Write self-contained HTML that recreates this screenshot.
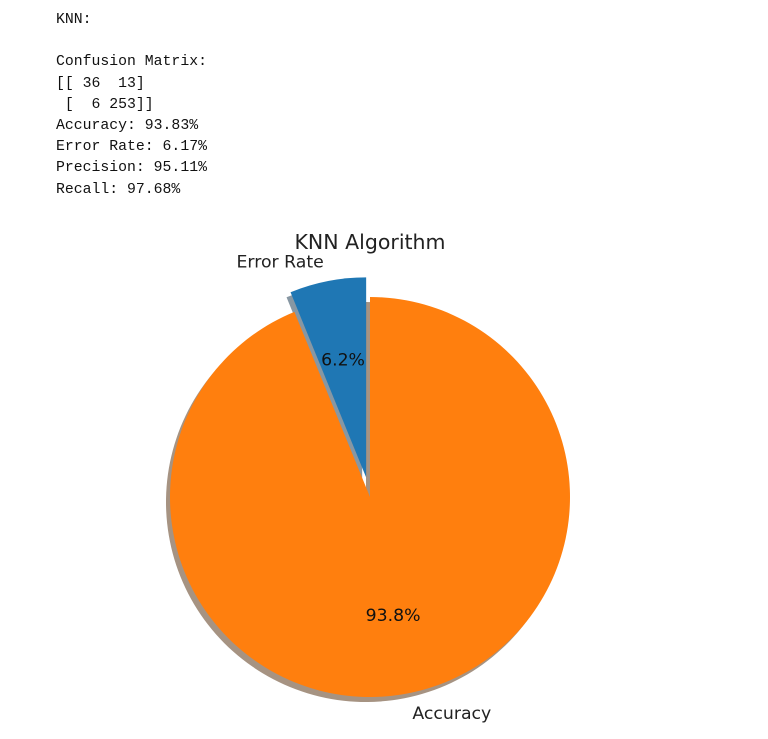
<!DOCTYPE html>
<html><head><meta charset="utf-8"><style>
body{margin:0;background:#fff;width:768px;height:739px;overflow:hidden}
pre{position:absolute;left:56px;top:10px;margin:0;font:14.8px/21.2px "Liberation Mono","DejaVu Sans Mono",monospace;color:#111}
svg{position:absolute;left:0;top:0}
</style></head><body>
<pre>KNN:

Confusion Matrix:
[[ 36  13]
 [  6 253]]
Accuracy: 93.83%
Error Rate: 6.17%
Precision: 95.11%
Recall: 97.68%</pre>
<svg width="768" height="739" id="chart">
<text x="370" y="249" text-anchor="middle" font-family="DejaVu Sans, sans-serif" font-size="20.5" fill="#222">KNN Algorithm</text>
</svg>
<script>
const labels=["Error Rate","Accuracy"];
const values=[6.17,93.83];
const colors=["#1f77b4","#ff7f0e"];
const shadowColors=["#8797a3","#a69382"];
const explode=[0.1,0];
const svg=document.getElementById('chart');
const NS='http://www.w3.org/2000/svg';
const cx=370,cy=497,R=200;
const total=values.reduce((a,b)=>a+b,0);
function wedge(a0,a1,ox,oy){
 const p=a=>[cx+ox+R*Math.cos(a),cy+oy-R*Math.sin(a)];
 const s=p(a0),e=p(a1);const large=(a1-a0)>Math.PI?1:0;
 return `M${cx+ox},${cy+oy}L${s[0]},${s[1]}A${R},${R} 0 ${large} 0 ${e[0]},${e[1]}Z`;
}
function mk(tag,attrs){const el=document.createElementNS(NS,tag);for(const k in attrs)el.setAttribute(k,attrs[k]);return el;}
const geo=[];let ang=Math.PI/2;
values.forEach((v,i)=>{const a0=ang,a1=ang+v/total*2*Math.PI;ang=a1;const mid=(a0+a1)/2;
 geo.push({a0,a1,mid,ox:explode[i]*R*Math.cos(mid),oy:-explode[i]*R*Math.sin(mid)});});
geo.forEach((g,i)=>{
 const s=mk('path',{d:wedge(g.a0,g.a1,g.ox-4,g.oy+5),fill:shadowColors[i]});
 
 
 svg.appendChild(s);
});
geo.forEach((g,i)=>{
 const w=mk('path',{d:wedge(g.a0,g.a1,g.ox,g.oy),fill:colors[i]});
 
 
 svg.appendChild(w);
});
geo.forEach((g,i)=>{
 const lx=cx+g.ox+1.1*R*Math.cos(g.mid),ly=cy+g.oy-1.1*R*Math.sin(g.mid);
 const t=mk('text',{x:lx,y:ly+6,'text-anchor':Math.cos(g.mid)<0?'end':'start','font-family':'DejaVu Sans, sans-serif','font-size':'17.3',fill:'#222'});
 t.textContent=labels[i];
 
 
 svg.appendChild(t);
 const px=cx+g.ox+0.6*R*Math.cos(g.mid),py=cy+g.oy-0.6*R*Math.sin(g.mid);
 const p=mk('text',{x:px,y:py+6,'text-anchor':'middle','font-family':'DejaVu Sans, sans-serif','font-size':'17.3',fill:'#111'});
 p.textContent=(values[i]/total*100).toFixed(1)+'%';
 
 
 svg.appendChild(p);
});
</script>
</body></html>
